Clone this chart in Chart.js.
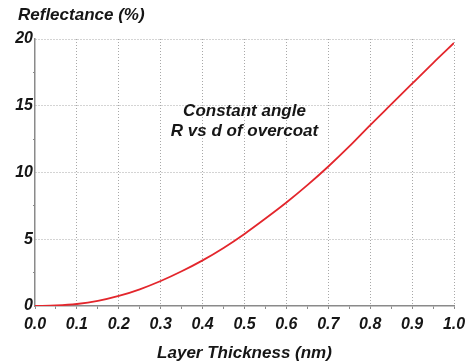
<!DOCTYPE html>
<html>
<head>
<meta charset="utf-8">
<script src="https://cdn.jsdelivr.net/npm/chart.js@4/dist/chart.umd.min.js"></script>
<style>
  html, body { margin: 0; padding: 0; background: #fff; }
  #wrap { width: 475px; height: 364px; }
</style>
</head>
<body>
<div id="wrap"><canvas id="c" width="475" height="364"></canvas></div>
<script>
// Reflectance of the overcoat layer at constant angle
const thickness = [0, 0.05, 0.1, 0.15, 0.2, 0.25, 0.3, 0.35, 0.4, 0.45, 0.5,
                   0.55, 0.6, 0.65, 0.7, 0.75, 0.8, 0.85, 0.9, 0.95, 1.0];
const reflectance = [0, 0.04, 0.15, 0.38, 0.75, 1.25, 1.87, 2.6, 3.42, 4.35, 5.4,
                     6.55, 7.75, 9.05, 10.45, 11.95, 13.55, 15.1, 16.65, 18.2, 19.7];

const xTicks = [0, 0.1, 0.2, 0.3, 0.4, 0.5, 0.6, 0.7, 0.8, 0.9, 1.0];
const yTicks = [0, 5, 10, 15, 20];

const yTitle = 'Reflectance (%)';
const xTitle = 'Layer Thickness (nm)';
const noteLines = ['Constant angle', 'R vs d of overcoat'];
const notePos = { x: 0.5, y: [14.6, 13.1] };

const FONT = 'Arial, "Liberation Sans", sans-serif';
const INK = '#161616';
const GRID = '#a8a8a8';
const AXIS = '#8a8a8a';

const isMajor = (v, list) => list.some(t => Math.abs(t - v) < 1e-6);

const labels = {
  id: 'labels',
  afterDraw(chart) {
    const { ctx, chartArea, scales } = chart;
    ctx.save();
    ctx.fillStyle = INK;
    ctx.font = 'italic bold 17px ' + FONT;
    ctx.textAlign = 'left';
    ctx.textBaseline = 'alphabetic';
    ctx.fillText(yTitle, 18, 20);
    ctx.textAlign = 'center';
    ctx.textBaseline = 'middle';
    ctx.fillText(xTitle, (chartArea.left + chartArea.right) / 2, 353);
    const nx = scales.x.getPixelForValue(notePos.x);
    noteLines.forEach((t, i) => {
      ctx.fillText(t, nx, scales.y.getPixelForValue(notePos.y[i]));
    });
    ctx.restore();
  }
};

new Chart(document.getElementById('c'), {
  type: 'line',
  data: {
    datasets: [{
      data: thickness.map((x, i) => ({ x, y: reflectance[i] })),
      borderColor: '#e3262c',
      borderWidth: 1.8,
      pointRadius: 0,
      cubicInterpolationMode: 'monotone',
      fill: false
    }]
  },
  options: {
    responsive: false,
    animation: false,
    events: [],
    layout: { padding: { top: 39, right: 21, left: 0, bottom: 0 } },
    plugins: { legend: { display: false }, tooltip: { enabled: false } },
    scales: {
      x: {
        type: 'linear',
        min: 0,
        max: 1,
        afterBuildTicks(scale) {
          const t = [];
          for (let i = 0; i <= 20; i++) t.push({ value: i * 0.05 });
          scale.ticks = t;
        },
        afterFit(scale) { scale.height = 58; },
        ticks: {
          autoSkip: false,
          maxRotation: 0,
          color: INK,
          padding: 6,
          font: { family: FONT, size: 16, style: 'italic', weight: 'bold' },
          callback: v => isMajor(v, xTicks) ? v.toFixed(1) : ''
        },
        grid: {
          drawOnChartArea: true,
          color: ctx => (ctx.tick && isMajor(ctx.tick.value, xTicks) && ctx.tick.value > 0) ? GRID : 'rgba(0,0,0,0)',
          tickColor: AXIS,
          tickLength: 3,
          lineWidth: 1
        },
        border: { display: true, color: AXIS, width: 1.5, dash: [1, 2] }
      },
      y: {
        type: 'linear',
        min: 0,
        max: 20,
        afterBuildTicks(scale) {
          const t = [];
          for (let i = 0; i <= 8; i++) t.push({ value: i * 2.5 });
          scale.ticks = t;
        },
        afterFit(scale) { scale.width = 35; },
        ticks: {
          autoSkip: false,
          color: INK,
          padding: 0,
          font: { family: FONT, size: 16, style: 'italic', weight: 'bold' },
          callback: v => isMajor(v, yTicks) ? String(v) : ''
        },
        grid: {
          drawOnChartArea: true,
          color: ctx => (ctx.tick && isMajor(ctx.tick.value, yTicks) && ctx.tick.value > 0) ? GRID : 'rgba(0,0,0,0)',
          tickColor: ctx => (ctx.tick && isMajor(ctx.tick.value, yTicks)) ? 'rgba(0,0,0,0)' : AXIS,
          tickLength: 2,
          lineWidth: 1
        },
        border: { display: true, color: AXIS, width: 1.5, dash: [1, 2] }
      }
    }
  },
  plugins: [labels]
});
</script>
</body>
</html>
